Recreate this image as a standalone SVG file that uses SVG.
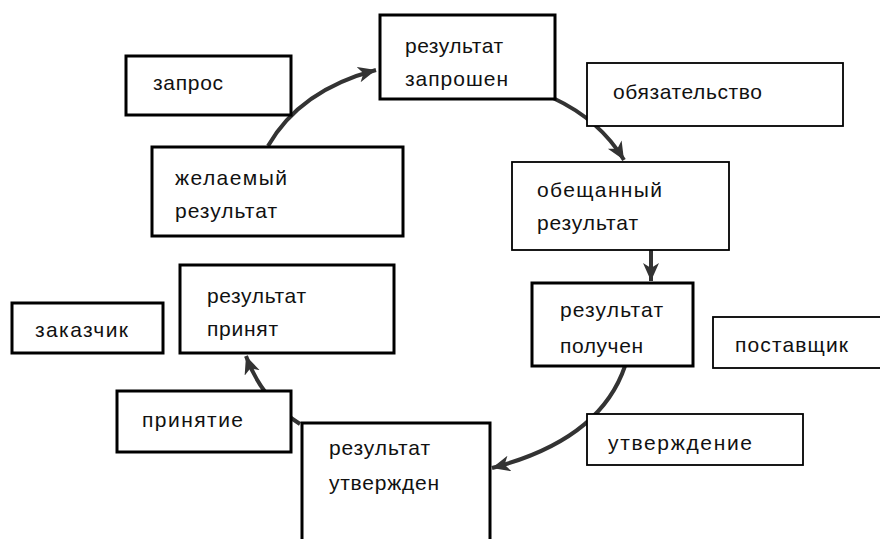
<svg xmlns="http://www.w3.org/2000/svg" width="880" height="539" viewBox="0 0 880 539">
<style>
.bx{fill:#fff;stroke:#000;stroke-width:3}
.tn{fill:#fff;stroke:#000;stroke-width:1.8}
.t{font-family:"Liberation Sans","DejaVu Sans",sans-serif;font-size:21px;fill:#111}
.c{fill:none;stroke:#333;stroke-width:4}
</style>
<defs>
<marker id="ah" markerUnits="userSpaceOnUse" markerWidth="22" markerHeight="18" refX="18" refY="8" orient="auto">
<path d="M0,0 L18,8 L0,16 L5,8 z" fill="#333"/>
</marker>
</defs>
<rect width="880" height="539" fill="#fff"/>
<g id="connectors">
<path class="c" d="M268 146 Q300 90 376 70" marker-end="url(#ah)"/>
<path class="c" d="M553 98 Q600 120 624 160" marker-end="url(#ah)"/>
<path class="c" d="M651 250 L651 281" marker-end="url(#ah)"/>
<path class="c" d="M625 366 Q600 440 492 468" marker-end="url(#ah)"/>
<path class="c" d="M300 424 Q262 400 246 356" marker-end="url(#ah)"/>
</g>
<g id="n-zapros"><rect class="bx" x="126" y="56" width="165" height="59"/><text class="t" x="153" y="90" textLength="70" lengthAdjust="spacing">запрос</text></g>
<g id="n-zaproshen"><rect class="bx" x="380" y="15" width="175" height="84"/><text class="t" x="405" y="53" textLength="98" lengthAdjust="spacing">результат</text><text class="t" x="405" y="86" textLength="103" lengthAdjust="spacing">запрошен</text></g>
<g id="n-zhelaemy"><rect class="bx" x="152" y="147" width="251" height="89"/><text class="t" x="175" y="185" textLength="112" lengthAdjust="spacing">желаемый</text><text class="t" x="175" y="218" textLength="102" lengthAdjust="spacing">результат</text></g>
<g id="n-obyazatelstvo"><rect class="tn" x="587" y="63" width="256" height="63"/><text class="t" x="613" y="99" textLength="149" lengthAdjust="spacing">обязательство</text></g>
<g id="n-obeshchanny"><rect class="tn" x="512" y="162" width="217" height="88"/><text class="t" x="537" y="197" textLength="125" lengthAdjust="spacing">обещанный</text><text class="t" x="537" y="230" textLength="101" lengthAdjust="spacing">результат</text></g>
<g id="n-poluchen"><rect class="bx" x="532" y="283" width="161" height="83"/><text class="t" x="560" y="317" textLength="103" lengthAdjust="spacing">результат</text><text class="t" x="560" y="353" textLength="83" lengthAdjust="spacing">получен</text></g>
<g id="n-postavshchik"><rect class="tn" x="713" y="317" width="170" height="51"/><text class="t" x="735" y="352" textLength="113" lengthAdjust="spacing">поставщик</text></g>
<g id="n-prinyat"><rect class="bx" x="180" y="265" width="214" height="88"/><text class="t" x="207" y="303" textLength="99" lengthAdjust="spacing">результат</text><text class="t" x="207" y="336" textLength="71" lengthAdjust="spacing">принят</text></g>
<g id="n-zakazchik"><rect class="bx" x="12" y="303" width="151" height="50"/><text class="t" x="35" y="337" textLength="93" lengthAdjust="spacing">заказчик</text></g>
<g id="n-prinyatie"><rect class="bx" x="117" y="391" width="174" height="61"/><text class="t" x="142" y="427" textLength="101" lengthAdjust="spacing">принятие</text></g>
<g id="n-utverzhden"><rect class="bx" x="302" y="423" width="188" height="130"/><text class="t" x="329" y="455" textLength="101" lengthAdjust="spacing">результат</text><text class="t" x="329" y="490" textLength="110" lengthAdjust="spacing">утвержден</text></g>
<g id="n-utverzhdenie"><rect class="tn" x="587" y="414" width="216" height="51"/><text class="t" x="608" y="450" textLength="144" lengthAdjust="spacing">утверждение</text></g>
</svg>
